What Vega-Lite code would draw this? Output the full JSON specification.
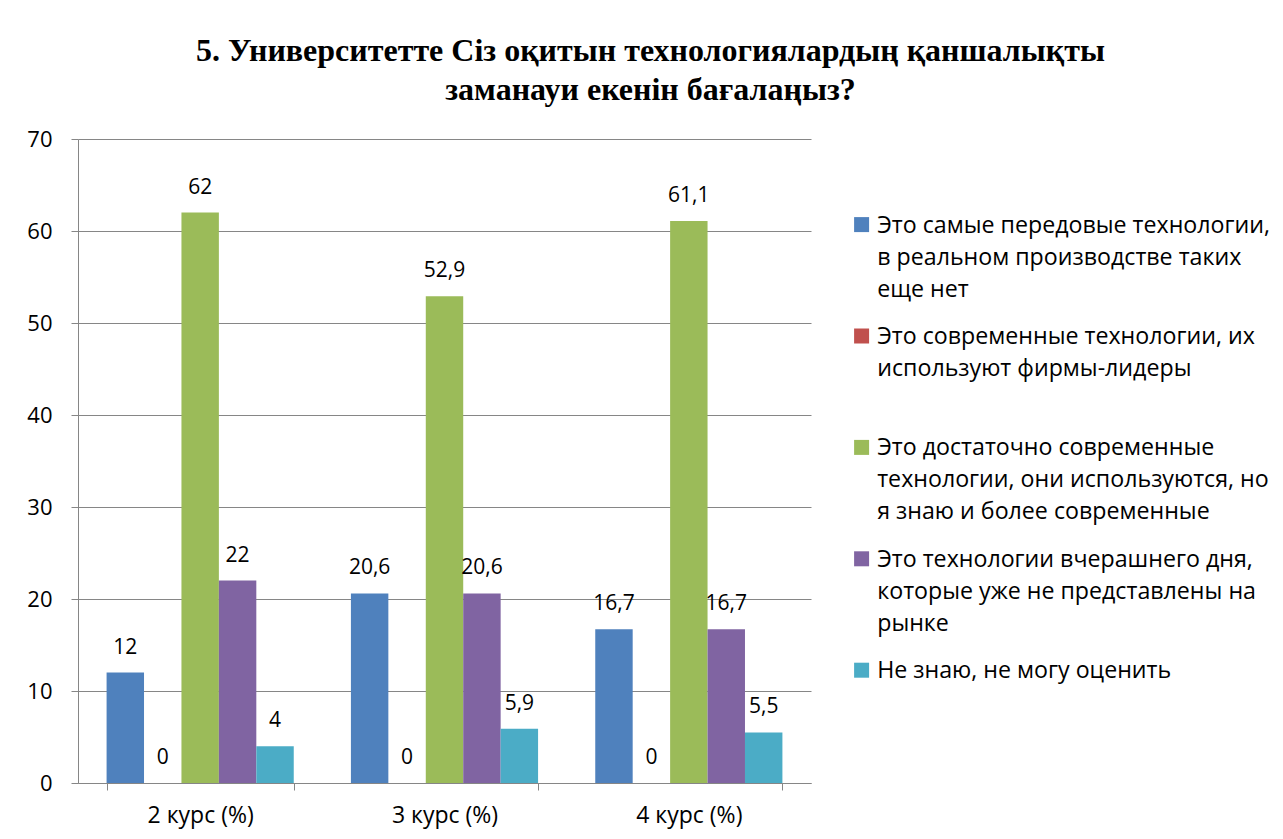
{
  "$schema": "https://vega.github.io/schema/vega-lite/v6.json",
  "width": 733,
  "height": 644,
  "autosize": {"type": "none"},
  "padding": {"left": 78, "top": 139, "right": 472, "bottom": 56},
  "background": "white",
  "title": {
    "text": ["5. Университетте Сіз оқитын технологиялардың қаншалықты", "заманауи екенін бағалаңыз?"],
    "font": "Liberation Serif",
    "fontSize": 32,
    "fontWeight": "bold",
    "color": "black",
    "anchor": "middle",
    "dx": 206,
    "lineHeight": 39,
    "offset": 21
  },
  "data": {
    "values": [
      {"course": "2 курс (%)", "category": "Это самые передовые технологии, в реальном производстве таких еще нет", "value": 12},
      {"course": "2 курс (%)", "category": "Это современные технологии, их используют фирмы-лидеры", "value": 0},
      {"course": "2 курс (%)", "category": "Это достаточно современные технологии, они используются, но я знаю и более современные", "value": 62},
      {"course": "2 курс (%)", "category": "Это технологии вчерашнего дня, которые уже не представлены на рынке", "value": 22},
      {"course": "2 курс (%)", "category": "Не знаю, не могу оценить", "value": 4},
      {"course": "3 курс (%)", "category": "Это самые передовые технологии, в реальном производстве таких еще нет", "value": 20.6},
      {"course": "3 курс (%)", "category": "Это современные технологии, их используют фирмы-лидеры", "value": 0},
      {"course": "3 курс (%)", "category": "Это достаточно современные технологии, они используются, но я знаю и более современные", "value": 52.9},
      {"course": "3 курс (%)", "category": "Это технологии вчерашнего дня, которые уже не представлены на рынке", "value": 20.6},
      {"course": "3 курс (%)", "category": "Не знаю, не могу оценить", "value": 5.9},
      {"course": "4 курс (%)", "category": "Это самые передовые технологии, в реальном производстве таких еще нет", "value": 16.7},
      {"course": "4 курс (%)", "category": "Это современные технологии, их используют фирмы-лидеры", "value": 0},
      {"course": "4 курс (%)", "category": "Это достаточно современные технологии, они используются, но я знаю и более современные", "value": 61.1},
      {"course": "4 курс (%)", "category": "Это технологии вчерашнего дня, которые уже не представлены на рынке", "value": 16.7},
      {"course": "4 курс (%)", "category": "Не знаю, не могу оценить", "value": 5.5}
    ]
  },
  "encoding": {
    "x": {
      "field": "course",
      "type": "nominal",
      "scale": {"paddingInner": 0.234, "paddingOuter": 0.117},
      "axis": {
        "title": null,
        "labelAngle": 0,
        "labelFont": "Open Sans",
        "labelFontSize": 23,
        "labelColor": "black",
        "labelPadding": 14,
        "tickBand": "extent",
        "tickSize": 7,
        "tickColor": "#868686",
        "domainColor": "#868686",
        "grid": false
      }
    },
    "xOffset": {
      "field": "category",
      "type": "nominal",
      "sort": [
        "Это самые передовые технологии, в реальном производстве таких еще нет",
        "Это современные технологии, их используют фирмы-лидеры",
        "Это достаточно современные технологии, они используются, но я знаю и более современные",
        "Это технологии вчерашнего дня, которые уже не представлены на рынке",
        "Не знаю, не могу оценить"
      ],
      "scale": {"paddingInner": 0, "paddingOuter": 0}
    },
    "y": {
      "field": "value",
      "type": "quantitative",
      "scale": {"domain": [0, 70], "nice": false},
      "axis": {
        "title": null,
        "values": [0, 10, 20, 30, 40, 50, 60, 70],
        "labelFont": "Open Sans",
        "labelFontSize": 22,
        "labelColor": "black",
        "labelPadding": 19,
        "tickSize": 7,
        "tickColor": "#868686",
        "domainColor": "#868686",
        "gridColor": "#868686",
        "grid": true
      }
    }
  },
  "layer": [
    {
      "mark": {"type": "bar"},
      "encoding": {
        "color": {
          "field": "category",
          "type": "nominal",
          "scale": {
            "domain": [
              "Это самые передовые технологии, в реальном производстве таких еще нет",
              "Это современные технологии, их используют фирмы-лидеры",
              "Это достаточно современные технологии, они используются, но я знаю и более современные",
              "Это технологии вчерашнего дня, которые уже не представлены на рынке",
              "Не знаю, не могу оценить"
            ],
            "range": ["#4F81BD", "#C0504D", "#9BBB59", "#8064A2", "#4BACC6"]
          },
          "legend": {
            "title": null,
            "orient": "none",
            "legendX": 772,
            "legendY": 74,
            "symbolType": "square",
            "symbolSize": 225,
            "symbolStrokeWidth": 0,
            "labelFont": "Open Sans",
            "labelFontSize": 23.2,
            "labelColor": "black",
            "labelLimit": 0,
            "labelOffset": 4,
            "labelBaseline": "top",
            "rowPadding": 23.4,
            "encoding": {"labels": {"dy": {"value": -10}}},
            "labelExpr": "datum.label == 'Это самые передовые технологии, в реальном производстве таких еще нет' ? ['Это самые передовые технологии,', 'в реальном производстве таких', 'еще нет'] : datum.label == 'Это современные технологии, их используют фирмы-лидеры' ? ['Это современные технологии, их', 'используют фирмы-лидеры', ' '] : datum.label == 'Это достаточно современные технологии, они используются, но я знаю и более современные' ? ['Это достаточно современные', 'технологии, они используются, но', 'я знаю и более современные'] : datum.label == 'Это технологии вчерашнего дня, которые уже не представлены на рынке' ? ['Это технологии вчерашнего дня,', 'которые уже не представлены на', 'рынке'] : datum.label"
          }
        }
      }
    },
    {
      "mark": {"type": "text", "baseline": "alphabetic", "dy": -19, "font": "Open Sans", "fontSize": 21, "color": "black"},
      "encoding": {
        "text": {"field": "value", "type": "quantitative", "format": ".1~f"}
      }
    }
  ],
  "config": {
    "locale": {"number": {"decimal": ",", "thousands": " ", "grouping": [3], "currency": ["", ""]}},
    "view": {"stroke": null},
    "style": {"guide-label": {"lineHeight": 32}}
  }
}
